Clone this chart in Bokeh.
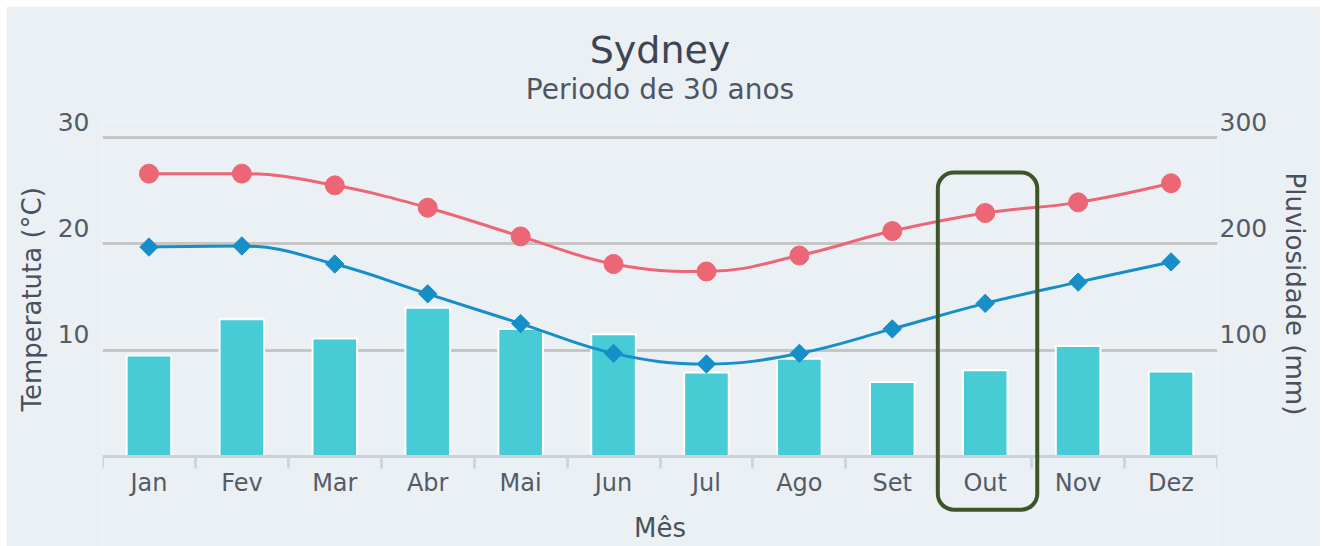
import numpy as np
from bokeh.plotting import figure
from bokeh.models import Range1d, LinearAxis, FixedTicker, Grid, Title, BoxAnnotation
from bokeh.embed import file_html
from bokeh.resources import INLINE

# ---------------- data ----------------
months = ["Jan", "Fev", "Mar", "Abr", "Mai", "Jun", "Jul", "Ago", "Set", "Out", "Nov", "Dez"]
temp_max = [26.6, 26.6, 25.5, 23.4, 20.7, 18.1, 17.4, 18.9, 21.2, 22.9, 23.9, 25.7]
temp_min = [19.7, 19.8, 18.1, 15.3, 12.5, 9.7, 8.7, 9.7, 12.0, 14.4, 16.4, 18.3]
rain = [95, 129, 111, 140, 120, 115, 79, 92, 70, 81, 104, 80]
temp_ticks = [10, 20, 30]
rain_ticks = [100, 200, 300]
highlight = "Out"

title_text = "Sydney"
subtitle_text = "Periodo de 30 anos"
x_title = "Mês"
left_title = "Temperatuta (°C)"
right_title = "Pluviosidade (mm)"

# ---------------- style / layout ----------------
FONT = "DejaVu Sans"
BG = "#ebf0f5"
RED = "#ec6675"
BLUE = "#168fc8"
BAR = "#47cbd4"
GRID = "#c6c6c6"
AXIS = "#c8d1dd"
TICK = "#ccd6e4"
LABEL = "#555b66"
AXT = "#4a505c"
TITLE_C = "#3e4451"
BOX = "#3d5528"

W, H = 1314, 540
B_L, B_R, B_T, B_B = 95, 102, 114, 0
PX_ZERO, PX_TOPTICK = 450, 131          # canvas y of value 0 and of value T_MAX
T_MAX, R_MAX = 30, 300
lift_px = 16                            # tick labels sit above their grid lines

ppu = (PX_ZERO - PX_TOPTICK) / T_MAX
y0 = -(H - B_B - PX_ZERO) / ppu
y1 = (PX_ZERO - B_T) / ppu
ratio = R_MAX / T_MAX
dT = lift_px / ppu

n = len(months)
xc = np.arange(n) + 0.5

p = figure(width=W, height=H, x_range=Range1d(0, n), y_range=Range1d(y0, y1),
           x_axis_location=None, y_axis_location=None, title=None,
           output_backend="svg", toolbar_location=None,
           min_border_left=B_L, min_border_right=B_R, min_border_top=B_T, min_border_bottom=B_B)
p.margin = (6, 6, 0, 6)
p.background_fill_color = BG
p.border_fill_color = BG
p.outline_line_color = None
p.center = [r for r in p.center if not isinstance(r, Grid)]

p.extra_y_ranges = {
    "rain": Range1d(y0 * ratio, y1 * ratio),
    "tlab": Range1d(y0 - dT, y1 - dT),
    "rlab": Range1d((y0 - dT) * ratio, (y1 - dT) * ratio),
}

p.add_layout(Grid(dimension=1, ticker=FixedTicker(ticks=temp_ticks),
                  grid_line_color=GRID, grid_line_width=3))

def style_axis(ax, lab_size="24px"):
    ax.major_label_text_font = FONT
    ax.major_label_text_font_size = lab_size
    ax.major_label_text_color = LABEL
    ax.axis_label_text_font = FONT
    ax.axis_label_text_font_size = "26px"
    ax.axis_label_text_color = AXT
    ax.axis_label_text_font_style = "normal"

# left axis (tick labels only)
la = LinearAxis(y_range_name="tlab", ticker=FixedTicker(ticks=temp_ticks),
                axis_line_color=None, major_tick_line_color=None, minor_tick_line_color=None,
                major_tick_out=0, major_tick_in=0, minor_tick_out=0, minor_tick_in=0,
                major_label_standoff=13)
style_axis(la, "25px")
p.add_layout(la, "left")

# right axis (tick labels only)
ra = LinearAxis(y_range_name="rlab", ticker=FixedTicker(ticks=rain_ticks),
                axis_line_color=None, major_tick_line_color=None, minor_tick_line_color=None,
                major_tick_out=0, major_tick_in=0, minor_tick_out=0, minor_tick_in=0,
                major_label_standoff=2)
style_axis(ra, "25px")
p.add_layout(ra, "right")

# axis titles as side titles
p.add_layout(Title(text=left_title, align="left", offset=135, standoff=16, text_font=FONT,
                   text_font_size="26px", text_color=AXT, text_font_style="normal"), "left")
p.add_layout(Title(text=right_title, align="left", offset=52, standoff=18, text_font=FONT,
                   text_font_size="26px", text_color=AXT, text_font_style="normal"), "right")

# bottom axis fixed at value 0: labels at centres, ticks at category boundaries
ba = LinearAxis(ticker=FixedTicker(ticks=list(xc), minor_ticks=list(range(n + 1))),
                major_label_overrides={float(v): m for v, m in zip(xc, months)},
                axis_label=x_title, fixed_location=0,
                axis_line_color=AXIS, axis_line_width=3,
                major_tick_line_color=None, major_tick_out=0, major_tick_in=0,
                minor_tick_line_color=TICK, minor_tick_line_width=3, minor_tick_out=12, minor_tick_in=0,
                major_label_standoff=0, axis_label_standoff=13)
style_axis(ba, "24px")
p.add_layout(ba, "below")

# titles
p.add_layout(Title(text=subtitle_text, align="center", text_font=FONT, text_font_size="28px",
                   text_color="#4f5562", text_font_style="normal", standoff=30), "above")
p.add_layout(Title(text=title_text, align="center", text_font=FONT, text_font_size="38px",
                   text_color=TITLE_C, text_font_style="normal", standoff=-32), "above")

# bars (rainfall, right axis)
p.vbar(x=xc, top=rain, width=0.48, y_range_name="rain", fill_color=BAR,
       line_color="white", line_width=2)

# smooth lines (Highcharts-like spline through the data points)
def spline_segments(xs, ys, smoothing=1.5):
    xs = list(map(float, xs)); ys = list(map(float, ys))
    m = len(xs)
    lcx, lcy = xs[:], ys[:]
    rcx, rcy = xs[:], ys[:]
    den = smoothing + 1
    for i in range(1, m - 1):
        px, py = xs[i], ys[i]
        lx, ly = xs[i - 1], ys[i - 1]
        nx, ny = xs[i + 1], ys[i + 1]
        lX = (smoothing * px + lx) / den
        lY = (smoothing * py + ly) / den
        rX = (smoothing * px + nx) / den
        rY = (smoothing * py + ny) / den
        corr = 0.0
        if rX != lX:
            corr = ((rY - lY) * (rX - px)) / (rX - lX) + py - rY
        lY += corr
        rY += corr
        if lY > ly and lY > py:
            lY = max(ly, py); rY = 2 * py - lY
        elif lY < ly and lY < py:
            lY = min(ly, py); rY = 2 * py - lY
        if rY > ny and rY > py:
            rY = max(ny, py); lY = 2 * py - rY
        elif rY < ny and rY < py:
            rY = min(ny, py); lY = 2 * py - rY
        lcx[i], lcy[i], rcx[i], rcy[i] = lX, lY, rX, rY
    return dict(x0=xs[:-1], y0=ys[:-1], x1=xs[1:], y1=ys[1:],
                cx0=rcx[:-1], cy0=rcy[:-1], cx1=lcx[1:], cy1=lcy[1:])

p.bezier(**spline_segments(xc, temp_max), line_color=RED, line_width=3, line_cap="round")
p.scatter(xc, temp_max, marker="circle", size=19, fill_color=RED, line_color=RED)

p.bezier(**spline_segments(xc, temp_min), line_color=BLUE, line_width=3, line_cap="round")
p.scatter(xc, temp_min, marker="square", angle=np.pi / 4, size=13, fill_color=BLUE, line_color=BLUE)

# highlight box around the selected month
hi = months.index(highlight)
p.add_layout(BoxAnnotation(left=hi - 0.01, right=hi + 1.06, bottom=-5.0, top=26.7,
                           fill_alpha=0, line_color=BOX, line_width=4, line_alpha=1,
                           border_radius=16))

open("out.html", "w").write(file_html(p, INLINE))
